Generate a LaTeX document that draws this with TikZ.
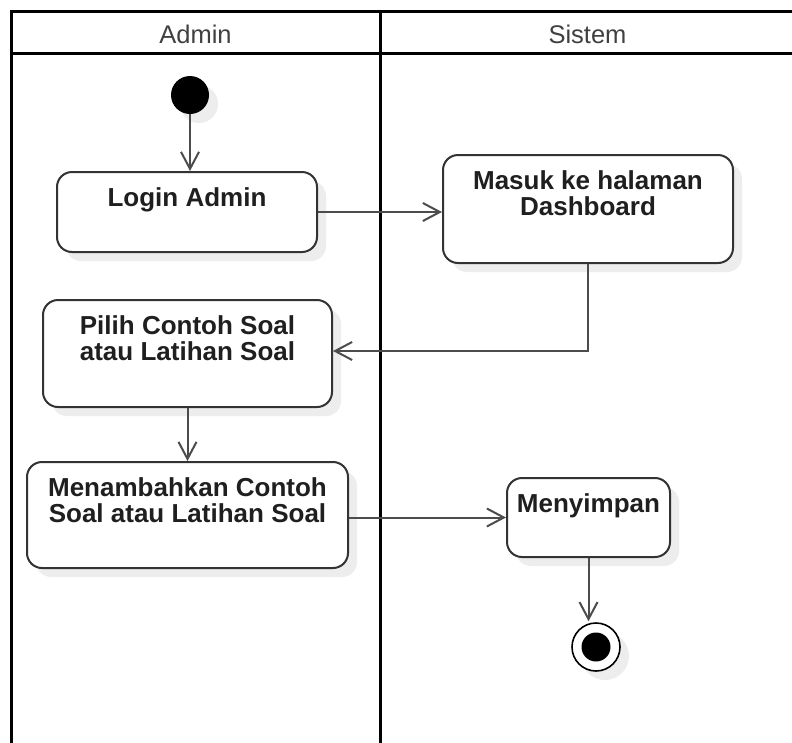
\documentclass[tikz,border=0pt]{standalone}
\usepackage{fontspec}
\setmainfont{Liberation Sans}
\usetikzlibrary{arrows.meta,shadows}

% activity label: fixed-size box, text hanging from the top edge
\newcommand{\acttext}[3]{\parbox[c][#2pt][t]{#1pt}{\centering\rule{0pt}{34pt}#3}}

\begin{document}
\begin{tikzpicture}[x=1pt,y=-1pt,
  lane/.style={line width=3pt,draw=black,line join=miter},
  lanetitle/.style={font=\fontsize{25.5}{26}\selectfont,text=black!75,anchor=base},
  softshadow/.style={drop shadow={shadow xshift=9pt,shadow yshift=-9pt,fill=black!7,opacity=1}},
  act/.style={draw=black!80,line width=2pt,rounded corners=15pt,fill=white,
    inner sep=0pt,font=\fontsize{26}{26}\selectfont\bfseries,text=black!88,softshadow},
  initial/.style={circle,fill=black,minimum size=38pt,inner sep=0pt,softshadow},
  final/.style={circle,draw=black,line width=1.6pt,fill=white,minimum size=48pt,inner sep=0pt,
    softshadow,path picture={\fill[black] (path picture bounding box.center) circle (14.5pt);}},
  flow/.style={draw=black!70,line width=2pt,-{Straight Barb[length=17pt,width=18pt]}}
]
\clip (0,0) rectangle (792,742);
\fill[white] (0,0) rectangle (792,742);

% swimlanes
\draw[lane] (11,760) -- (11,11) -- (800,11);
\draw[lane] (11,53) -- (800,53);
\draw[lane] (380,11) -- (380,760);
\node[lanetitle] (admintitle) at (195.5,43) {Admin};
\node[lanetitle] (sistemtitle) at (587.5,43) {Sistem};

% activities
\node[initial] (start) at (190,95) {};
\node[act] (login) at (187,212) {\acttext{260}{80}{Login Admin}};
\node[act] (masuk) at (588,209) {\acttext{290}{108}{Masuk ke halaman\\Dashboard}};
\node[act] (pilih) at (187.5,353.5) {\acttext{289}{107}{Pilih Contoh Soal\\atau Latihan Soal}};
\node[act] (tambah) at (187.5,515) {\acttext{321}{106}{Menambahkan Contoh\\Soal atau Latihan Soal}};
\node[act] (simpan) at (588.5,517.5) {\acttext{163}{79}{Menyimpan}};
\node[final] (end) at (596,647) {};

% control flow
\draw[flow] (start.south) -- (start.south |- login.north);
\draw[flow] (login.east) -- (login.east -| masuk.west);
\draw[flow] (masuk.south) |- ([yshift=2.5pt]pilih.east);
\draw[flow] (pilih.south) -- (tambah.north);
\draw[flow] (tambah.east |- simpan.west) -- (simpan.west);
\draw[flow] (simpan.south) -- ([yshift=1pt]simpan.south |- end.north);
\end{tikzpicture}
\end{document}
